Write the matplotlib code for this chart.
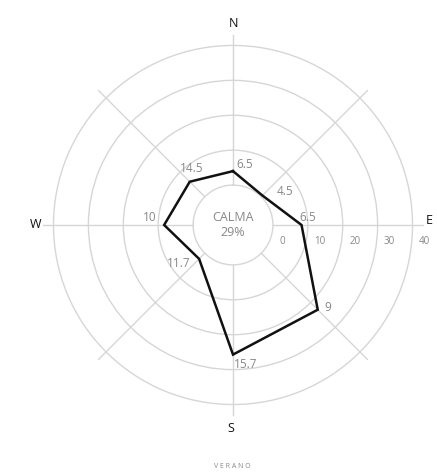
import numpy as np
import matplotlib
matplotlib.use("Agg")
import matplotlib.pyplot as plt

# wind rose, summer season
directions = ["N", "NE", "E", "SE", "S", "SW", "W", "NW"]
angles_deg = [0, 45, 90, 135, 180, 225, 270, 315]
frequency = [4.0, 0.5, 8.2, 22.9, 25.7, 2.3, 8.3, 6.1]
value_labels = ["6.5", "4.5", "6.5", "9", "15.7", "11.7", "10", "14.5"]
ring_values = [0, 10, 20, 30, 40]
calm_text = "CALMA\n29%"
season = "VERANO"

# where each value label sits (theta in degrees, radius in ring units)
label_pos = [(11, 6.1), (57, 6.3), (84, 10.1), (131, 24.4),
             (175, 28.7), (235, 7.7), (275, 12.4), (324, 8.6)]
# pixel nudges for the compass letters
compass_nudge = {"N": (0, 0), "E": (-5, 4), "S": (-2, -2), "W": (4, 0)}

INK = "#111111"
GRAY = "#888888"
GRID = "#d6d6d6"

plt.rcParams["font.family"] = ["Open Sans", "DejaVu Sans"]

fig = plt.figure(figsize=(4.37, 4.76), dpi=100)
fig.patch.set_facecolor("white")
ax = fig.add_axes([0.0984, 0.1282, 0.8696, 0.7983], projection="polar")
ax.set_theta_zero_location("N")
ax.set_theta_direction(-1)
ax.set_ylim(0, 43)
ax.set_rorigin(-11.43)
# the inner spine gets switched back on at draw time, so blank its colour
for sp in ax.spines.values():
    sp.set_visible(False)
    sp.set_edgecolor("none")
ax.patch.set_edgecolor("none")
ax.set_thetagrids(angles_deg, [""] * len(angles_deg))
ax.set_rgrids(ring_values, [""] * len(ring_values))
ax.grid(True, color=GRID, linewidth=1.0)
for gl in ax.yaxis.get_gridlines() + ax.xaxis.get_gridlines():
    gl.set_clip_on(False)

theta = np.deg2rad(angles_deg + angles_deg[:1])
r = frequency + frequency[:1]
ax.plot(theta, r, color=INK, linewidth=1.8, solid_joinstyle="miter", clip_on=False)

for (t, rr), txt in zip(label_pos, value_labels):
    ax.text(np.deg2rad(t), rr, txt, ha="center", va="center", fontsize=8.5, color=GRAY)

for v in ring_values:
    ax.annotate(str(v), xy=(np.pi / 2, v), xytext=(9 if v == 0 else 12, -17),
                textcoords="offset pixels", ha="center", va="center",
                fontsize=7, color=GRAY, annotation_clip=False)

ax.text(0, -11.43, calm_text, ha="center", va="center", fontsize=9,
        color=GRAY, linespacing=1.15)

for d, a in zip(directions, angles_deg):
    if d in compass_nudge:
        ax.annotate(d, xy=(np.deg2rad(a), 46.2), xytext=compass_nudge[d],
                    textcoords="offset pixels", ha="center", va="center",
                    fontsize=9, color=INK, annotation_clip=False)

fig.text(0.531, 1 - 467 / 476, " ".join(season), ha="center", va="center",
         fontsize=5, color=GRAY)

fig.savefig("out.png", dpi=100, facecolor="white")
